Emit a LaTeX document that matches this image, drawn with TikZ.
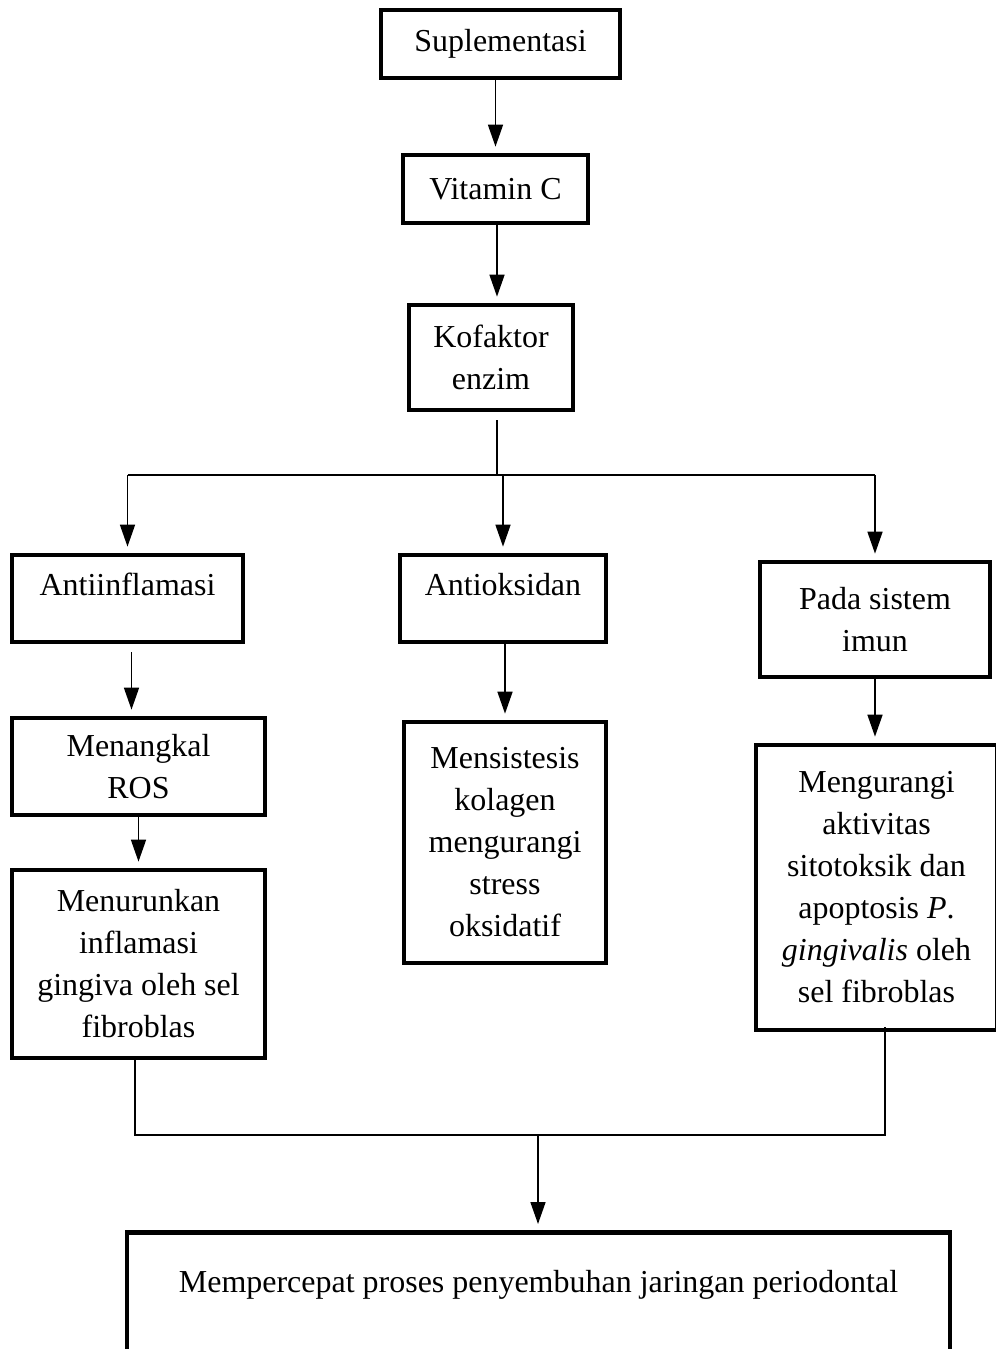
\documentclass[tikz,border=0pt]{standalone}
\usepackage{fontspec}
\setmainfont{Liberation Serif}
\usetikzlibrary{arrows.meta,calc}

\begin{document}
\begin{tikzpicture}[x=0.02cm,y=-0.02cm,
  every node/.style={font=\fontsize{18.2pt}{23.9pt}\selectfont, align=center, inner sep=0pt},
  kotak/.style={draw, line width=2.7pt, minimum width=#1},
  atas/.style={text height=0.45cm, text depth=0.59cm},
  garis/.style={line width=0.9pt},
  panah/.style={garis, -{Triangle[length=0.44cm,width=0.3cm]}, shorten >=0.12cm}]
\useasboundingbox (0,0) rectangle (995,1349);

% alur utama
\node[kotak=4.78cm, minimum height=1.36cm] (supl) at (500.5,44) {Suplementasi};
\node[kotak=3.7cm, minimum height=1.36cm] (vitc) at (495.5,189) {Vitamin C};
\node[kotak=3.28cm, minimum height=2.1cm] (kof) at (491,357.5) {Kofaktor\\enzim};

\node[kotak=4.62cm, minimum height=1.74cm, atas] (anti) at (127.5,598.5) {Antiinflamasi};
\node[kotak=4.12cm, minimum height=1.74cm, atas] (oks) at (503,598.5) {Antioksidan};
\node[kotak=4.6cm, minimum height=2.3cm] (imun) at (875,619.5) {Pada sistem\\imun};

\node[kotak=5.06cm, minimum height=1.94cm] (ros) at (138.5,766.5) {Menangkal\\ROS};
\node[kotak=5.06cm, minimum height=3.76cm] (turun) at (138.5,964) {Menurunkan\\inflamasi\\gingiva oleh sel\\fibroblas};
\node[kotak=4.04cm, minimum height=4.82cm] (sintesis) at (505,842.5) {Mensistesis\\kolagen\\mengurangi\\stress\\oksidatif};
\node[kotak=4.82cm, minimum height=5.7cm] (kurang) at (876.5,887.5) {Mengurangi\\aktivitas\\sitotoksik dan\\apoptosis \textit{P}.\\\textit{gingivalis} oleh\\sel fibroblas};

\node[kotak=16.46cm, minimum height=3cm, anchor=north, text height=0.45cm, text depth=1.05cm] (hasil) at (538.5,1230) {Mempercepat proses penyembuhan jaringan periodontal};

\coordinate (cabang) at (497,475);
\coordinate (gabung) at (538,1135);
\coordinate (kiri) at (135,1135);
\coordinate (kanan) at (885,1135);

\draw[panah] (vitc.north |- supl.south) -- (vitc.north);
\draw[panah] (vitc.south -| kof.north) ++(6,0) -- ($(kof.north)+(6,0)$);
\draw[garis] ($(kof.south -| cabang)+(0,8)$) -- (cabang);
\draw[garis] (anti.north |- cabang) -- (imun.north |- cabang);
\foreach \n in {anti,oks,imun}
  \draw[panah] (\n.north |- cabang) -- (\n.north);

\draw[panah] ($(anti.south)+(4,8)$) -- ($(ros.north -| anti.south)+(4,0)$);
\draw[panah] (ros.south) -- (turun.north);
\draw[panah] (sintesis.north |- oks.south) -- (sintesis.north);
\draw[panah] (imun.south) -- (kurang.north -| imun.south);

\draw[garis] (kiri |- turun.south) -- (kiri) -- (kanan) -- ($(kanan |- kurang.south)+(0,-5)$);
\draw[panah] (gabung) -- (hasil.north -| gabung);
\end{tikzpicture}
\end{document}
